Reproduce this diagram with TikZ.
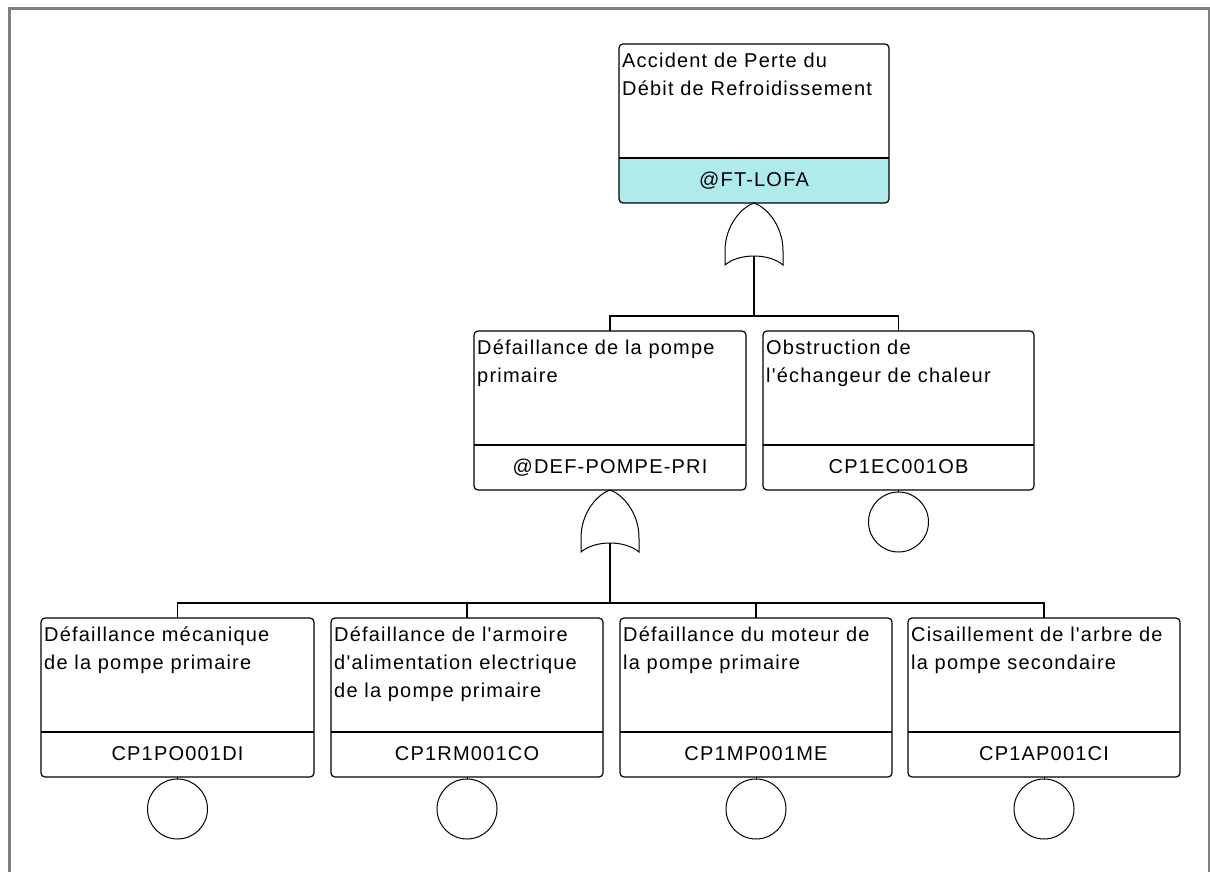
\documentclass[tikz,border=0pt]{standalone}
\usepackage{fontspec}
\setmainfont{Liberation Sans}[LetterSpace=6, Ligatures=TeXOff]
\usetikzlibrary{calc}

\definecolor{topband}{RGB}{175,235,235}
\definecolor{framegray}{RGB}{128,128,128}

\tikzset{
  evt/.style={draw, line width=1.2pt, rounded corners=4pt, minimum height=159pt,
              inner sep=0pt, outer sep=0pt, anchor=north west},
  desc/.style={anchor=north west, inner sep=0pt, align=left,
               font=\fontsize{20}{28}\selectfont},
  codetext/.style={anchor=base, inner sep=0pt, font=\fontsize{20}{24}\selectfont},
  gateline/.style={line width=1pt},
  basicev/.style={draw, circle, line width=1pt, minimum size=60pt, inner sep=0pt, outer sep=0pt},
  wire/.style={line width=1.2pt},
}

% event box: name, left x, top y, width, description, identifier, band colour
\newcommand{\eventbox}[7]{%
  \begin{scope}
    \clip[rounded corners=4pt] (#2,#3) rectangle ++(#4,159);
    \fill[#7] (#2,#3+114) rectangle ++(#4,45);
  \end{scope}
  \node[evt, minimum width=#4pt] (#1) at (#2,#3) {};
  \draw[line width=1.2pt] ($(#1.north west)+(0,114)$) -- ($(#1.north east)+(0,114)$);
  \node[desc] (#1-d) at ($(#1.north west)+(3,3.4)$) {\strut #5};
  \node[codetext] (#1-c) at ($(#1.north)+(0,142)$) {#6};
}

% OR gate hanging from its apex: name, apex x, apex y
\newcommand{\orgate}[3]{%
  \coordinate (#1-top) at (#2,#3);
  \coordinate (#1-in) at (#2,#3+53);
  \draw[gateline] (#2,#3) .. controls (#2-12,#3+4) and (#2-29,#3+22) .. (#2-29,#3+48)
    -- (#2-29,#3+62) .. controls (#2-15,#3+50) and (#2+15,#3+50) .. (#2+29,#3+62)
    -- (#2+29,#3+48) .. controls (#2+29,#3+22) and (#2+12,#3+4) .. cycle;
}

\begin{document}
\begin{tikzpicture}[x=1pt, y=-1pt]
  \useasboundingbox (0,0) rectangle (1210,872);
  \clip (0,0) rectangle (1210,872);
  \fill[white] (0,0) rectangle (1210,872);
  \draw[framegray, line width=3pt] (9,9) rectangle (1209.5,900);

  % top event
  \eventbox{top}{619}{44}{270}{Accident de Perte du\\Débit de Refroidissement}{@FT-LOFA}{topband}
  \orgate{g1}{754}{203}

  % intermediate level
  \eventbox{m1}{474}{331}{272}{Défaillance de la pompe\\primaire}{@DEF-POMPE-PRI}{white}
  \eventbox{m2}{763}{331}{271}{Obstruction de\\l'échangeur de chaleur}{CP1EC001OB}{white}
  \orgate{g2}{610}{490}
  \node[basicev] (e0) at ($(m2.south)+(0,32)$) {};
  \draw[gateline] (m2.south) -- (e0.north);

  % basic events
  \eventbox{b1}{41}{618}{273}{Défaillance mécanique\\de la pompe primaire}{CP1PO001DI}{white}
  \eventbox{b2}{331}{618}{272}{Défaillance de l'armoire\\d'alimentation electrique\\de la pompe primaire}{CP1RM001CO}{white}
  \eventbox{b3}{620}{618}{272}{Défaillance du moteur de\\la pompe primaire}{CP1MP001ME}{white}
  \eventbox{b4}{908}{618}{272}{Cisaillement de l'arbre de\\la pompe secondaire}{CP1AP001CI}{white}
  \foreach \b/\e in {b1/e1, b2/e2, b3/e3, b4/e4}{
    \node[basicev] (\e) at ($(\b.south)+(0,32)$) {};
    \draw[gateline] (\b.south) -- (\e.north);
  }

  % connections under the gates
  \coordinate (bus1) at (754,316);
  \draw[wire] (g1-in) -- (bus1);
  \draw[wire] (m1.north) |- (bus1) -| (m2.north);

  \coordinate (bus2) at (610,603);
  \draw[wire] (g2-in) -- (bus2);
  \draw[wire] (b1.north) |- (bus2) -| (b4.north);
  \draw[wire] (b2.north) -- (b2.north |- bus2);
  \draw[wire] (b3.north) -- (b3.north |- bus2);
\end{tikzpicture}
\end{document}
